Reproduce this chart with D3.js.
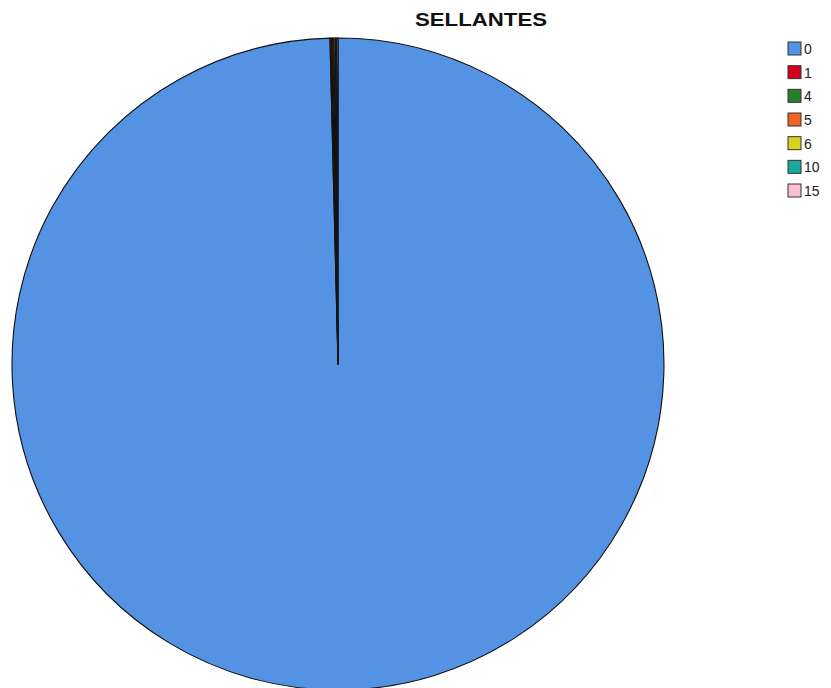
<!DOCTYPE html>
<html>
<head>
<meta charset="utf-8">
<script src="https://cdn.jsdelivr.net/npm/d3@7"></script>
<style>
  html, body { margin: 0; padding: 0; background: #ffffff; }
  svg { display: block; }
</style>
</head>
<body>
<svg id="chart" width="831" height="688"></svg>
<script>
// SELLANTES: number of sealants per case
const categories = ["0", "1", "4", "5", "6", "10", "15"];
const counts = [1520, 1, 1, 1, 1, 1, 1];
const sliceColors = ["#5493e4", "#d0021b", "#2a7d2a", "#ee6428", "#d9d21f", "#1aa89a", "#f8bfd6"];

const svg = d3.select("#chart");
const cx = 338, cy = 364, radius = 326;

const color = d3.scaleOrdinal().domain(categories).range(sliceColors);

const data = categories.map((c, i) => ({ label: c, value: counts[i] }));

const pie = d3.pie().sort(null).value(d => d.value);
const arc = d3.arc().innerRadius(0).outerRadius(radius);

const g = svg.append("g").attr("transform", `translate(${cx},${cy})`);
g.selectAll("path.slice")
  .data(pie(data))
  .join("path")
  .attr("class", "slice")
  .attr("d", arc)
  .attr("fill", d => color(d.data.label))
  .attr("stroke", "#111")
  .attr("stroke-width", 1.1)
  .attr("stroke-linejoin", "round");

// Title
svg.append("text")
  .attr("x", 481)
  .attr("y", 26)
  .attr("text-anchor", "middle")
  .attr("font-family", "Liberation Sans, Arial, sans-serif")
  .attr("font-weight", "bold")
  .attr("font-size", 19)
  .attr("textLength", 132)
  .attr("lengthAdjust", "spacingAndGlyphs")
  .attr("fill", "#111")
  .text("SELLANTES");

// Legend
const legendY = d3.scalePoint().domain(categories).range([42, 184]);
const legend = svg.append("g");
const items = legend.selectAll("g.item")
  .data(categories)
  .join("g")
  .attr("class", "item")
  .attr("transform", d => `translate(788,${legendY(d)})`);
items.append("rect")
  .attr("width", 13)
  .attr("height", 13)
  .attr("fill", d => color(d))
  .attr("stroke", "#333")
  .attr("stroke-width", 1);
items.append("text")
  .attr("x", 16)
  .attr("y", 12)
  .attr("font-family", "Liberation Sans, Arial, sans-serif")
  .attr("font-size", 14)
  .attr("fill", "#222")
  .text(d => d);
</script>
</body>
</html>
